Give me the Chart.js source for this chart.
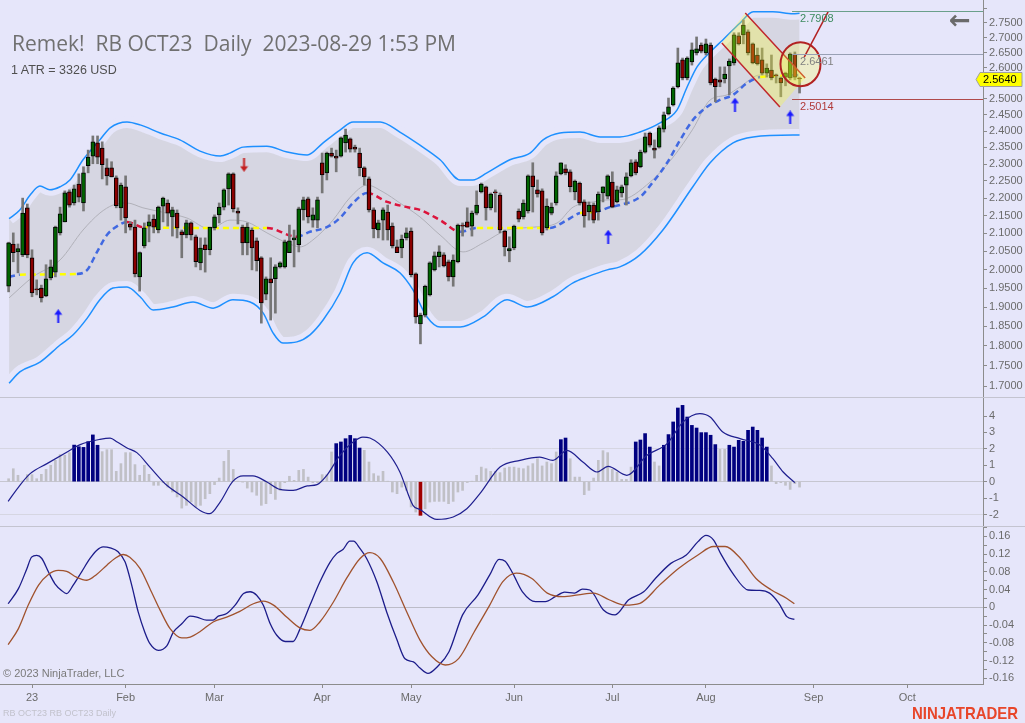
<!DOCTYPE html>
<html>
<head>
<meta charset="utf-8">
<title>RB OCT23 Daily</title>
<script src="https://cdn.jsdelivr.net/npm/chart.js@4.4.1/dist/chart.umd.min.js"></script>
<style>
  html, body { margin: 0; padding: 0; }
  body { width: 1025px; height: 723px; background: #e6e6fa; position: relative; overflow: hidden;
         font-family: "Liberation Sans", Arial, sans-serif; }
  canvas { position: absolute; left: 0; }
  .txt { position: absolute; white-space: pre; line-height: 1; }
</style>
</head>
<body>
<canvas id="priceChart" width="1025" height="397" style="top:0"></canvas>
<canvas id="histChart" width="1025" height="129" style="top:397px"></canvas>
<canvas id="oscChart" width="1025" height="197" style="top:526px"></canvas>
<div class="txt" style="left:12px;top:29px;font:21px 'Open Sans',sans-serif;color:#707070">Remek!  RB OCT23  Daily  2023-08-29 1:53 PM</div>
<div class="txt" style="left:11px;top:64px;font-size:12.5px;color:#505050">1 ATR = 3326 USD</div>
<div class="txt" style="left:949px;top:5px;font:bold 26px 'DejaVu Sans',sans-serif;color:#6a6a6a">←</div>
<div class="txt" style="left:3px;top:668px;font-size:11px;color:#7a7a7a">© 2023 NinjaTrader, LLC</div>
<div class="txt" style="left:3px;top:709px;font-size:9px;color:#c2c2cc">RB OCT23 RB OCT23 Daily</div>
<div class="txt" style="left:912px;top:704px;font:bold 17px 'Liberation Sans',sans-serif;color:#e8462a;transform:scaleX(0.88);transform-origin:left top">NINJATRADER</div>
<script>
// ---- daily bars, first one is 5 sessions before Jan 3 (index 0) ----
const firstBar = -5;
const candleOpen = [
  1.955, 2.070, 2.048, 2.040, 2.172, 2.032, 1.948, 1.950, 1.929, 1.977,
  1.993, 2.101, 2.132, 2.218, 2.186, 2.241, 2.186, 2.295, 2.324, 2.364,
  2.348, 2.289, 2.289, 2.259, 2.172, 2.233, 2.126, 2.117, 1.980, 2.065,
  2.120, 2.140, 2.109, 2.177, 2.186, 2.146, 2.157, 2.104, 2.095, 2.129,
  2.090, 2.018, 2.068, 2.054, 2.115, 2.152, 2.174, 2.227, 2.271, 2.163,
  2.117, 2.073, 2.109, 2.079, 2.032, 1.934, 1.975, 1.975, 2.007, 2.007,
  2.046, 2.081, 2.068, 2.166, 2.198, 2.137, 2.137, 2.304, 2.274, 2.333,
  2.324, 2.324, 2.364, 2.376, 2.351, 2.333, 2.289, 2.256, 2.166, 2.109,
  2.137, 2.160, 2.120, 2.062, 2.059, 2.087, 2.106, 1.988, 1.856, 1.879,
  1.932, 1.999, 2.035, 2.040, 2.021, 1.980, 2.021, 2.123, 2.132, 2.120,
  2.157, 2.218, 2.233, 2.172, 2.218, 2.209, 2.106, 2.051, 2.059, 2.163,
  2.146, 2.163, 2.265, 2.224, 2.221, 2.115, 2.157, 2.186, 2.271, 2.286,
  2.277, 2.218, 2.244, 2.189, 2.160, 2.180, 2.160, 2.215, 2.206, 2.247,
  2.189, 2.215, 2.238, 2.265, 2.307, 2.292, 2.336, 2.394, 2.348, 2.351,
  2.406, 2.453, 2.481, 2.539, 2.626, 2.567, 2.619, 2.649, 2.675, 2.649,
  2.675, 2.564, 2.561, 2.564, 2.606, 2.616, 2.706, 2.709, 2.719, 2.679,
  2.642, 2.626, 2.583, 2.593, 2.577, 2.567, 2.570, 2.567, 2.645, 2.567
];
const candleHigh = [
  2.075, 2.101, 2.070, 2.200, 2.183, 2.054, 1.972, 1.958, 2.013, 2.026,
  2.120, 2.174, 2.221, 2.224, 2.238, 2.271, 2.292, 2.342, 2.385, 2.385,
  2.367, 2.316, 2.307, 2.265, 2.244, 2.265, 2.132, 2.137, 2.048, 2.129,
  2.152, 2.152, 2.177, 2.203, 2.195, 2.174, 2.166, 2.109, 2.137, 2.132,
  2.095, 2.087, 2.087, 2.117, 2.152, 2.186, 2.227, 2.274, 2.274, 2.172,
  2.123, 2.129, 2.115, 2.087, 2.035, 1.980, 2.032, 2.013, 2.021, 2.081,
  2.123, 2.109, 2.174, 2.203, 2.203, 2.172, 2.203, 2.333, 2.336, 2.348,
  2.342, 2.382, 2.406, 2.379, 2.357, 2.348, 2.292, 2.262, 2.172, 2.137,
  2.172, 2.180, 2.129, 2.081, 2.095, 2.115, 2.115, 1.991, 1.884, 1.958,
  2.021, 2.048, 2.065, 2.046, 2.026, 2.040, 2.126, 2.129, 2.172, 2.163,
  2.221, 2.244, 2.235, 2.215, 2.224, 2.215, 2.109, 2.090, 2.123, 2.169,
  2.195, 2.268, 2.304, 2.253, 2.227, 2.198, 2.186, 2.277, 2.304, 2.298,
  2.283, 2.253, 2.247, 2.195, 2.189, 2.186, 2.218, 2.233, 2.268, 2.277,
  2.235, 2.238, 2.274, 2.313, 2.313, 2.342, 2.394, 2.397, 2.373, 2.416,
  2.459, 2.503, 2.539, 2.665, 2.632, 2.636, 2.682, 2.702, 2.682, 2.695,
  2.682, 2.567, 2.603, 2.603, 2.629, 2.716, 2.716, 2.759, 2.726, 2.682,
  2.665, 2.665, 2.613, 2.642, 2.580, 2.570, 2.586, 2.649, 2.652, 2.570
];
const candleLow = [
  1.940, 2.021, 1.991, 2.035, 2.032, 1.927, 1.932, 1.913, 1.927, 1.972,
  1.980, 2.095, 2.132, 2.174, 2.180, 2.189, 2.163, 2.274, 2.301, 2.301,
  2.256, 2.238, 2.262, 2.172, 2.137, 2.101, 2.109, 1.980, 1.942, 2.059,
  2.076, 2.101, 2.101, 2.132, 2.120, 2.092, 2.087, 2.032, 2.087, 2.081,
  2.007, 1.999, 1.993, 2.040, 2.109, 2.129, 2.166, 2.180, 2.160, 2.126,
  2.040, 2.040, 1.999, 1.996, 1.858, 1.919, 1.866, 1.884, 2.004, 2.004,
  2.046, 2.007, 2.048, 2.137, 2.129, 2.117, 2.115, 2.215, 2.253, 2.321,
  2.277, 2.321, 2.336, 2.336, 2.336, 2.265, 2.238, 2.160, 2.087, 2.087,
  2.081, 2.081, 2.059, 2.046, 2.032, 2.081, 1.980, 1.858, 1.805, 1.874,
  1.929, 1.996, 2.007, 2.007, 1.969, 1.955, 2.018, 2.092, 2.117, 2.092,
  2.152, 2.215, 2.137, 2.166, 2.160, 2.101, 2.037, 2.021, 2.054, 2.132,
  2.140, 2.157, 2.160, 2.203, 2.095, 2.109, 2.152, 2.180, 2.268, 2.268,
  2.218, 2.195, 2.180, 2.117, 2.137, 2.129, 2.137, 2.189, 2.198, 2.172,
  2.186, 2.203, 2.180, 2.262, 2.268, 2.289, 2.333, 2.351, 2.318, 2.348,
  2.397, 2.450, 2.478, 2.535, 2.561, 2.561, 2.609, 2.642, 2.649, 2.642,
  2.545, 2.491, 2.539, 2.551, 2.513, 2.609, 2.675, 2.679, 2.642, 2.613,
  2.609, 2.577, 2.570, 2.561, 2.551, 2.507, 2.542, 2.561, 2.561, 2.519
];
const candleClose = [
  2.073, 2.046, 2.057, 2.157, 2.040, 1.937, 1.945, 1.924, 1.975, 2.007,
  2.117, 2.155, 2.215, 2.180, 2.227, 2.203, 2.274, 2.321, 2.367, 2.321,
  2.298, 2.265, 2.262, 2.178, 2.238, 2.143, 2.117, 1.988, 2.046, 2.115,
  2.132, 2.117, 2.174, 2.200, 2.157, 2.166, 2.115, 2.095, 2.129, 2.095,
  2.021, 2.059, 2.054, 2.117, 2.146, 2.174, 2.224, 2.271, 2.169, 2.157,
  2.073, 2.117, 2.059, 2.024, 1.911, 1.975, 1.964, 2.007, 2.018, 2.076,
  2.079, 2.087, 2.169, 2.195, 2.146, 2.152, 2.195, 2.268, 2.333, 2.324,
  2.318, 2.379, 2.388, 2.345, 2.345, 2.289, 2.262, 2.166, 2.112, 2.129,
  2.166, 2.109, 2.065, 2.046, 2.084, 2.101, 1.986, 1.874, 1.879, 1.955,
  2.018, 2.037, 2.048, 2.010, 1.980, 2.026, 2.123, 2.120, 2.117, 2.157,
  2.180, 2.241, 2.172, 2.212, 2.215, 2.109, 2.062, 2.057, 2.120, 2.140,
  2.186, 2.265, 2.233, 2.212, 2.101, 2.177, 2.174, 2.265, 2.304, 2.274,
  2.233, 2.250, 2.186, 2.149, 2.180, 2.137, 2.212, 2.233, 2.265, 2.174,
  2.224, 2.233, 2.262, 2.304, 2.274, 2.336, 2.382, 2.357, 2.342, 2.410,
  2.450, 2.475, 2.535, 2.616, 2.567, 2.632, 2.659, 2.662, 2.655, 2.679,
  2.551, 2.539, 2.554, 2.580, 2.622, 2.709, 2.679, 2.742, 2.649, 2.616,
  2.613, 2.583, 2.599, 2.567, 2.574, 2.551, 2.583, 2.645, 2.570, 2.564
];

// ---- envelope bands / averages, [bar, price] ----
const upperBand = [[-4.9,2.141],[-2.6,2.166],[-0.4,2.209],[1.7,2.235],[3.8,2.224],[6.0,2.233],[8.1,2.253],[10.9,2.313],
  [14.5,2.373],[16.7,2.410],[20.3,2.428],[23.1,2.419],[27.4,2.394],[31.6,2.373],[35.9,2.339],[40.2,2.324],[42.3,2.333],
  [45.1,2.351],[50.2,2.354],[54.5,2.336],[58.8,2.327],[62.2,2.364],[65.8,2.403],[68.6,2.428],[74.4,2.428],[78.6,2.397],
  [82.9,2.357],[87.2,2.313],[91.5,2.253],[94.2,2.253],[97.2,2.274],[102.1,2.313],[106.4,2.333],[109.2,2.373],[112.8,2.394],
  [117.1,2.397],[121.4,2.382],[125.6,2.382],[129.9,2.397],[134.2,2.425],[137.8,2.465],[140.0,2.539],[142.1,2.603],
  [144.9,2.652],[147.6,2.692],[151.3,2.749],[154.1,2.787],[158.3,2.787],[162.6,2.780],[164,2.782]];
const lowerBand = [[-4.9,1.707],[-2.6,1.735],[1.7,1.759],[6.0,1.802],[8.8,1.828],[11.8,1.871],[14.5,1.919],[17.3,1.950],
  [20.3,1.953],[23.1,1.927],[25.9,1.892],[30.1,1.900],[34.4,1.913],[38.7,1.897],[42.9,1.919],[46.6,1.913],[49.4,1.884],
  [51.5,1.833],[53.6,1.807],[56.6,1.810],[59.4,1.828],[62.2,1.866],[65.8,1.937],[68.6,2.018],[71.6,2.046],[75.0,2.018],
  [78.6,1.991],[81.4,1.945],[84.4,1.874],[87.2,1.848],[91.5,1.848],[96.4,1.874],[101.5,1.919],[105.8,1.900],[111.3,1.927],
  [115.6,1.964],[118.6,1.980],[122.9,1.999],[125.6,2.007],[129.9,2.040],[134.8,2.109],[141.2,2.233],[144.9,2.304],
  [149.8,2.364],[154.1,2.382],[162.6,2.388],[164,2.388]];
const midLine = [[-4.9,1.924],[0.2,1.980],[6.0,2.026],[10.9,2.109],[14.5,2.157],[17.3,2.180],[20.3,2.186],[23.7,2.172],
  [28.8,2.157],[33.1,2.143],[38.0,2.112],[42.3,2.137],[45.9,2.132],[50.2,2.101],[54.5,2.073],[57.3,2.062],[60.0,2.081],
  [64.3,2.137],[67.9,2.201],[71.6,2.238],[75.0,2.218],[78.6,2.186],[82.9,2.146],[87.2,2.095],[92.1,2.048],[96.4,2.073],
  [101.5,2.109],[107.1,2.117],[112.2,2.129],[115.6,2.174],[119.9,2.189],[123.5,2.195],[125.6,2.195],[132.1,2.247],
  [137.0,2.321],[141.2,2.406],[144.9,2.497],[148.5,2.513],[151.3,2.539],[155.6,2.577],[159.8,2.570],[164,2.567]];
const trendAvg = [[-4.9,1.980],[-2.6,1.986],[9.6,1.988],[11.8,1.999],[13.9,2.048],[16.0,2.095],[18.2,2.120],[20.3,2.132],
  [23.7,2.117],[38.0,2.115],[50.2,2.115],[56.6,2.090],[59.4,2.104],[63.0,2.117],[65.8,2.143],[68.6,2.186],[71.6,2.215],
  [75.9,2.189],[80.8,2.172],[82.9,2.166],[87.2,2.137],[91.5,2.104],[95.1,2.115],[110.7,2.115],[114.3,2.137],[117.1,2.157],
  [120.3,2.160],[123.5,2.174],[125.6,2.180],[129.9,2.203],[132.7,2.247],[135.7,2.304],[138.5,2.373],[141.2,2.434],
  [144.2,2.475],[147.0,2.497],[149.8,2.513],[152.8,2.551],[155.6,2.570],[160.3,2.574],[164,2.577]];
// trend state of each segment: b = up, y = flat, r = down
const trendState = ['b','y','b','b','b','b','b','r','y','y','r','b','b','b','b','b','r','r','r','r','r','b','y','b','b',
  'y','b','b','b','b','b','b','b','b','b','b','b','b','y','b','b'];
const signalUp = [[5.6,1.876],[123.1,2.090],[150.2,2.482],[162.0,2.442]];
const signalDown = [[45.3,2.298]];

// ---- drawing objects ----
const channel = [[147.4,2.682],[152.4,2.783],[165.2,2.567],[159.8,2.475]];
const circleAt = [164.2,2.612];
const rayLine = [[165.0,2.635],[170.1,2.787]];
const levels = [2.7908, 2.6461, 2.5014];
const levelStart = 162.4;
const lastPrice = 2.5640;

// ---- lower panels ----
const histValues = [
  0.18, 0.79, 0.39, 0.05, 0.43, 0.43, 0.18, 0.45, 0.75, 1.00,
  1.30, 1.65, 1.61, 1.77, 2.23, 2.13, 2.09, 2.44, 2.85, 2.22,
  1.83, 1.95, 1.95, 0.63, 1.10, 1.77, 1.77, 1.04, 0.39, 1.00,
  0.45, -0.22, -0.22, -0.06, -0.33, -0.63, -0.93, -1.61, -1.44, -1.24,
  -1.54, -1.44, -1.04, -0.73, -0.18, 0.22, 1.24, 1.91, 0.75, 0.02,
  -0.02, -0.39, -0.63, -0.83, -1.44, -1.34, -0.73, -1.08, -0.53, -0.06,
  0.33, 0.08, 0.69, 0.75, 0.28, -0.06, -0.06, 0.43, 0.43, 1.81,
  2.32, 2.42, 2.62, 2.82, 2.62, 2.05, 1.91, 1.20, 0.49, 0.35,
  0.63, 0.02, -0.63, -0.73, -0.33, -0.53, -1.54, -1.85, -2.05, -1.65,
  -1.24, -1.20, -1.20, -1.20, -1.34, -1.20, -0.63, -0.53, -0.05, 0.02,
  0.39, 0.89, 0.79, 0.63, 0.63, 0.55, 0.83, 0.89, 0.89, 0.83,
  0.79, 0.96, 1.10, 1.40, 0.96, 1.20, 1.10, 1.81, 2.56, 2.66,
  1.40, 0.28, 0.28, -0.79, -0.53, 0.22, 1.30, 1.89, 1.77, 0.75,
  0.59, 0.14, 0.14, 0.89, 2.42, 2.54, 2.93, 2.11, 1.20, 0.96,
  2.22, 2.87, 3.64, 4.49, 4.65, 3.94, 3.43, 3.27, 2.99, 2.99,
  2.83, 2.26, 1.97, 1.97, 2.22, 2.11, 2.52, 2.46, 3.13, 3.33,
  3.13, 2.66, 2.11, 0.96, -0.12, -0.06, -0.22, -0.47, -0.12, -0.33
];
const navyRuns = [[9,14],[65,70],[113,114],[129,132],[135,146],[149,157]];
const redBars = [83];
const histLine = [[-5.1,-1.20],[-2.6,-0.22],[-0.4,0.49],[3.2,1.10],[7.5,1.81],[10.3,2.26],[14.5,2.58],[16.7,2.66],
  [18.2,2.42],[20.3,2.05],[22.4,1.77],[25.2,0.89],[28.8,-0.22],[32.3,-0.93],[35.9,-1.75],[38.0,-1.95],[40.2,-1.24],
  [42.9,0.02],[45.1,0.35],[47.2,0.35],[50.2,-0.02],[53.0,-0.47],[55.8,-0.53],[58.8,-0.26],[60.9,-0.18],[63.0,0.39],
  [65.8,1.61],[68.6,2.42],[70.7,2.72],[72.2,2.66],[75.9,1.81],[78.6,0.59],[81.4,-1.44],[82.9,-1.70],[86.5,-2.30],
  [90.0,-2.15],[92.9,-1.65],[95.7,-0.73],[100.0,0.89],[104.3,1.30],[108.5,1.50],[111.3,1.30],[114.3,1.91],[117.7,1.20],
  [120.7,0.59],[123.1,0.93],[127.1,0.39],[131.4,1.61],[135.7,2.32],[139.1,3.64],[142.7,4.15],[144.9,3.94],[147.6,3.03],
  [151.3,2.62],[155.6,2.22],[158.3,1.40],[160.5,0.59],[163.0,-0.06]];
const oscFast = [[-5.1,0.008],[-2.9,0.042],[-1.1,0.087],[-0.1,0.113],[1.0,0.117],[2.1,0.110],[3.5,0.080],[4.9,0.053],
  [6.3,0.038],[7.4,0.031],[8.8,0.050],[10.6,0.080],[12.4,0.110],[13.8,0.128],[15.2,0.136],[16.7,0.134],[18.4,0.125],
  [19.9,0.102],[21.3,0.050],[22.7,-0.011],[24.1,-0.056],[25.2,-0.082],[27.0,-0.097],[28.8,-0.087],[30.2,-0.056],
  [32.0,-0.037],[33.8,-0.020],[35.2,-0.022],[37.3,-0.029],[38.7,-0.029],[39.8,-0.020],[41.6,-0.014],[43.4,0.005],
  [45.2,0.031],[46.6,0.035],[48.0,0.027],[49.4,0.005],[50.9,-0.037],[52.3,-0.063],[54.1,-0.077],[55.8,-0.077],
  [57.3,-0.048],[59.4,0.005],[61.5,0.057],[63.7,0.102],[65.1,0.121],[66.5,0.131],[67.9,0.149],[68.7,0.149],[70.1,0.132],
  [71.5,0.110],[73.7,0.057],[75.8,-0.011],[77.9,-0.071],[79.7,-0.116],[81.5,-0.123],[82.9,-0.137],[84.6,-0.149],
  [86.6,-0.134],[89.1,-0.100],[92.0,-0.017],[95.3,0.028],[97.8,0.073],[99.8,0.108],[101.1,0.104],[102.7,0.077],
  [104.8,0.035],[107.6,0.013],[109.7,0.013],[111.8,0.024],[113.8,0.034],[115.9,0.032],[117.6,0.041],[119.2,0.039],
  [122.1,-0.006],[124.6,-0.017],[127.5,0.017],[130.7,0.035],[133.2,0.065],[136.5,0.099],[139.8,0.118],[142.3,0.148],
  [144.0,0.162],[145.6,0.152],[147.3,0.118],[149.7,0.077],[153.0,0.039],[155.5,0.038],[157.6,0.032],[159.6,0.009],
  [161.3,-0.021],[162.9,-0.027]];
const oscSlow = [[-5.1,-0.084],[-2.9,-0.048],[-0.8,0.005],[1.4,0.050],[3.5,0.074],[5.6,0.083],[7.4,0.081],[9.5,0.068],
  [11.7,0.061],[13.8,0.074],[16.0,0.095],[17.7,0.110],[19.5,0.119],[20.9,0.113],[23.1,0.087],[25.2,0.042],[27.4,-0.007],
  [29.5,-0.048],[32.0,-0.069],[33.8,-0.067],[36.0,-0.054],[38.7,-0.033],[41.6,-0.022],[44.4,-0.009],[47.3,0.008],
  [49.4,0.014],[51.6,0.005],[54.4,-0.022],[57.3,-0.047],[59.4,-0.052],[61.5,-0.033],[64.4,0.012],[67.2,0.065],
  [70.1,0.110],[72.2,0.123],[74.4,0.110],[77.2,0.057],[80.1,-0.011],[82.9,-0.074],[85.4,-0.111],[88.3,-0.130],
  [91.2,-0.115],[94.5,-0.055],[97.8,0.005],[100.6,0.058],[103.5,0.077],[106.8,0.065],[110.1,0.032],[113.4,0.024],
  [116.7,0.028],[120.0,0.032],[123.3,0.017],[126.6,0.005],[129.9,0.009],[134.1,0.050],[138.2,0.088],[142.3,0.118],
  [145.6,0.137],[148.1,0.137],[151.4,0.110],[154.7,0.065],[158.0,0.039],[161.3,0.020],[162.9,0.008]];

// ---- axes ----
const priceTicks = [1.70,1.75,1.80,1.85,1.90,1.95,2.00,2.05,2.10,2.15,2.20,2.25,2.30,2.35,2.40,2.45,2.50,2.55,2.60,2.65,2.70,2.75,2.80];
const histTicks = [-2,-1,0,1,2,3,4];
const oscTicks = [-0.16,-0.14,-0.12,-0.10,-0.08,-0.06,-0.04,-0.02,0,0.02,0.04,0.06,0.08,0.10,0.12,0.14,0.16,0.18];
const monthTicks = [0, 20, 39, 62, 81, 103, 124, 144, 167, 187];
const monthLabels = ['23','Feb','Mar','Apr','May','Jun','Jul','Aug','Sep','Oct'];

Chart.defaults.font.family = '"Liberation Sans", Arial, sans-serif';
Chart.defaults.font.size = 11;
Chart.defaults.color = '#6b6b6b';

// NinjaTrader style log price axis: log(price + 1)
const F = p => Math.log(p + 1);
const Finv = v => Math.exp(v) - 1;
const bars = candleOpen.map((_, k) => firstBar + k);
const xy = arr => arr.map(([x, y]) => ({ x, y }));
const xyPrice = arr => arr.map(([x, p]) => ({ x, y: F(p) }));
const axisGrey = '#8c8c8c';

function xAxis(show) {
  return { type: 'linear', min: -6.84, max: 203.2, offset: false, display: show };
}
function fitRight(s) { s.width = 42; s.paddingTop = 0; s.paddingBottom = 0; }
function baseOptions(scales) {
  return { responsive: false, animation: false, events: [], layout: { padding: 0, autoPadding: false },
    plugins: { legend: { display: false }, tooltip: { enabled: false } }, scales };
}
const panelTop = {
  id: 'panelTop',
  afterDraw(c) { const g = c.ctx; g.save(); g.fillStyle = '#c4c4d0'; g.fillRect(0, 0, c.width, 1); g.restore(); }
};

function arrowImage(color, up) {
  const c = document.createElement('canvas');
  c.width = 9; c.height = 14;
  const g = c.getContext('2d');
  g.fillStyle = color; g.strokeStyle = color; g.lineWidth = 2;
  if (!up) { g.translate(0, 14); g.scale(1, -1); }
  g.beginPath(); g.moveTo(4.5, 0); g.lineTo(8.5, 5.5); g.lineTo(0.5, 5.5); g.closePath(); g.fill();
  g.beginPath(); g.moveTo(4.5, 4); g.lineTo(4.5, 14); g.stroke();
  return c;
}
const upArrow = arrowImage('#1a1aff', true);
const downArrow = arrowImage('#c41e1e', false);

const trendColors = { b: '#4169e1', y: '#ffff00', r: '#dc143c' };

const drawings = {
  id: 'drawings',
  afterDatasetsDraw(chart) {
    const { ctx, chartArea: a, scales: { x, y } } = chart;
    const px = i => x.getPixelForValue(i), py = p => y.getPixelForValue(F(p));
    ctx.save();
    ctx.beginPath(); ctx.rect(a.left, a.top, a.width, a.height); ctx.clip();
    // channel
    ctx.beginPath();
    channel.forEach(([i, p], k) => k ? ctx.lineTo(px(i), py(p)) : ctx.moveTo(px(i), py(p)));
    ctx.closePath();
    ctx.fillStyle = 'rgba(255,255,40,0.30)'; ctx.fill();
    ctx.strokeStyle = '#c0282d'; ctx.lineWidth = 1.5;
    ctx.beginPath();
    ctx.moveTo(px(channel[1][0]), py(channel[1][1])); ctx.lineTo(px(channel[2][0]), py(channel[2][1]));
    ctx.moveTo(px(channel[0][0]), py(channel[0][1])); ctx.lineTo(px(channel[3][0]), py(channel[3][1]));
    ctx.stroke();
    // circle + ray
    ctx.beginPath();
    ctx.ellipse(px(circleAt[0]), py(circleAt[1]), 20, 22, 0, 0, Math.PI * 2);
    ctx.fillStyle = 'rgba(255,255,60,0.25)'; ctx.fill();
    ctx.strokeStyle = '#b22222'; ctx.lineWidth = 2; ctx.stroke();
    ctx.beginPath(); ctx.lineWidth = 1.5;
    ctx.moveTo(px(rayLine[0][0]), py(rayLine[0][1])); ctx.lineTo(px(rayLine[1][0]), py(rayLine[1][1]));
    ctx.stroke();
    // price levels
    const lineCol = ['#6aa08a', '#98a0b4', '#b04a4a'];
    const textCol = ['#3d8b5f', '#808080', '#b03a3a'];
    ctx.font = '11px "Liberation Sans", Arial, sans-serif';
    ctx.textBaseline = 'top';
    levels.forEach((p, k) => {
      const yy = Math.round(py(p)) + 0.5;
      ctx.strokeStyle = lineCol[k]; ctx.lineWidth = 1;
      ctx.beginPath(); ctx.moveTo(px(levelStart), yy); ctx.lineTo(a.right, yy); ctx.stroke();
      ctx.fillStyle = textCol[k];
      ctx.fillText(p.toFixed(4), px(levelStart) + 8, yy + 2);
    });
    ctx.restore();
  },
  afterDraw(chart) {
    const { ctx, scales: { y } } = chart;
    const yy = Math.round(y.getPixelForValue(F(lastPrice))) + 0.5;
    ctx.save();
    ctx.beginPath();
    ctx.moveTo(976, yy); ctx.lineTo(980, yy - 7); ctx.lineTo(1022, yy - 7); ctx.lineTo(1022, yy + 7);
    ctx.lineTo(980, yy + 7); ctx.closePath();
    ctx.fillStyle = '#ffff00'; ctx.fill();
    ctx.strokeStyle = '#a0a0a0'; ctx.lineWidth = 1; ctx.stroke();
    ctx.fillStyle = '#000'; ctx.font = '11px "Liberation Sans", Arial, sans-serif';
    ctx.textBaseline = 'middle';
    ctx.fillText(lastPrice.toFixed(4), 983, yy + 0.5);
    ctx.restore();
  }
};

// ---- price panel ----
const lineBase = { type: 'line', pointRadius: 0, cubicInterpolationMode: 'monotone', fill: false };
new Chart(document.getElementById('priceChart'), {
  type: 'bar',
  data: {
    datasets: [
      { ...lineBase, data: xyPrice(upperBand), borderWidth: 0, borderColor: 'transparent',
        fill: '+1', backgroundColor: 'rgba(200,200,206,0.55)', order: 10 },
      { ...lineBase, data: xyPrice(lowerBand), borderWidth: 0, borderColor: 'transparent', order: 10 },
      { ...lineBase, data: xyPrice(upperBand), borderWidth: 12, borderColor: '#e6e6fa', order: 9 },
      { ...lineBase, data: xyPrice(lowerBand), borderWidth: 12, borderColor: '#e6e6fa', order: 9 },
      { ...lineBase, data: xyPrice(upperBand), borderWidth: 1.5, borderColor: '#1e90ff', order: 8 },
      { ...lineBase, data: xyPrice(lowerBand), borderWidth: 1.5, borderColor: '#1e90ff', order: 8 },
      { ...lineBase, data: xyPrice(midLine), borderWidth: 1, borderColor: '#b0b0b8', order: 7 },
      { ...lineBase, data: xyPrice(trendAvg), borderWidth: 2.5, borderDash: [6, 4],
        borderColor: '#4169e1', segment: { borderColor: c => trendColors[trendState[c.p0DataIndex]] }, order: 6 },
      { type: 'bar', data: bars.map((x, k) => ({ x, y: [F(candleLow[k]), F(candleHigh[k])] })),
        backgroundColor: '#767676', barThickness: 2, grouped: false, order: 5 },
      { type: 'bar', data: bars.map((x, k) => ({ x, y: [F(Math.min(candleOpen[k], candleClose[k])), F(Math.max(candleOpen[k], candleClose[k]))] })),
        backgroundColor: bars.map((x, k) => candleClose[k] >= candleOpen[k] ? '#006400' : '#8b0000'),
        borderColor: '#000', borderWidth: 1, borderSkipped: false, barThickness: 4, grouped: false, order: 4 },
      { type: 'line', showLine: false, data: [...xyPrice(signalUp), ...xyPrice(signalDown)],
        pointStyle: c => c.dataIndex < signalUp.length ? upArrow : downArrow, pointRadius: 7, order: 3 }
    ]
  },
  options: baseOptions({
    x: xAxis(false),
    y: { type: 'linear', position: 'right', min: F(1.6734), max: F(2.8277), afterFit: fitRight,
      afterBuildTicks: s => { s.ticks = priceTicks.map(p => ({ value: F(p) })); },
      ticks: { autoSkip: false, padding: 2, callback: v => { const p = Finv(v); return p > 2.78 ? '' : p.toFixed(4); } },
      grid: { drawOnChartArea: false, tickLength: 4, tickColor: axisGrey },
      border: { display: true, color: axisGrey } }
  }),
  plugins: [drawings]
});

// ---- histogram panel ----
const histState = bars.map(i => redBars.includes(i) ? 'r' : navyRuns.some(([a, b]) => i >= a && i <= b) ? 'n' : 'g');
new Chart(document.getElementById('histChart'), {
  type: 'bar',
  data: {
    datasets: [
      { data: bars.map((x, k) => ({ x, y: histState[k] === 'g' ? histValues[k] : null })),
        backgroundColor: '#c0c0c6', barThickness: 2, grouped: false, order: 3 },
      { data: bars.map((x, k) => ({ x, y: histState[k] !== 'g' ? histValues[k] : null })),
        backgroundColor: bars.map((x, k) => histState[k] === 'r' ? '#a00000' : '#000080'),
        barThickness: 3, grouped: false, order: 2 },
      { ...lineBase, data: xy(histLine), borderColor: '#1f1f8f', borderWidth: 1.2, order: 1 }
    ]
  },
  options: baseOptions({
    x: xAxis(false),
    y: { type: 'linear', position: 'right', min: -2.70, max: 5.16, afterFit: fitRight,
      afterBuildTicks: s => { s.ticks = histTicks.map(v => ({ value: v })); },
      ticks: { autoSkip: false, padding: 2 },
      grid: { color: c => c.tick && c.tick.value === 0 ? '#c6c6d0' : (c.tick && Math.abs(c.tick.value) === 2 ? '#d6d6e2' : 'transparent'),
        tickLength: 4, tickColor: axisGrey },
      border: { display: true, color: axisGrey } }
  }),
  plugins: [panelTop]
});

// ---- oscillator panel ----
new Chart(document.getElementById('oscChart'), {
  type: 'line',
  data: {
    datasets: [
      { ...lineBase, data: xy(oscSlow), borderColor: '#a0522d', borderWidth: 1.3 },
      { ...lineBase, data: xy(oscFast), borderColor: '#1c1c8a', borderWidth: 1.3 }
    ]
  },
  options: baseOptions({
    x: { ...xAxis(true), position: 'bottom',
      afterFit: s => { s.height = 39; s.paddingLeft = 0; s.paddingRight = 0; },
      afterBuildTicks: s => { s.ticks = monthTicks.map(v => ({ value: v })); },
      ticks: { autoSkip: false, maxRotation: 0, padding: 3, callback: (v, k) => monthLabels[k] },
      grid: { drawOnChartArea: false, tickLength: 4, tickColor: axisGrey },
      border: { display: true, color: axisGrey } },
    y: { type: 'linear', position: 'right', min: -0.1728, max: 0.1832, afterFit: fitRight,
      afterBuildTicks: s => { s.ticks = oscTicks.map(v => ({ value: v })); },
      ticks: { autoSkip: false, padding: 2, callback: v => {
        const k = Math.round(v / 0.02);
        if (k % 2 !== 0 || k > 8) return '';
        return k === 0 ? '0' : (k * 0.02).toFixed(2);
      } },
      grid: { color: c => c.tick && Math.abs(c.tick.value) < 1e-9 ? '#bcbcc8' : 'transparent',
        tickLength: 4, tickColor: axisGrey },
      border: { display: true, color: axisGrey } }
  }),
  plugins: [panelTop]
});
</script>
</body>
</html>
